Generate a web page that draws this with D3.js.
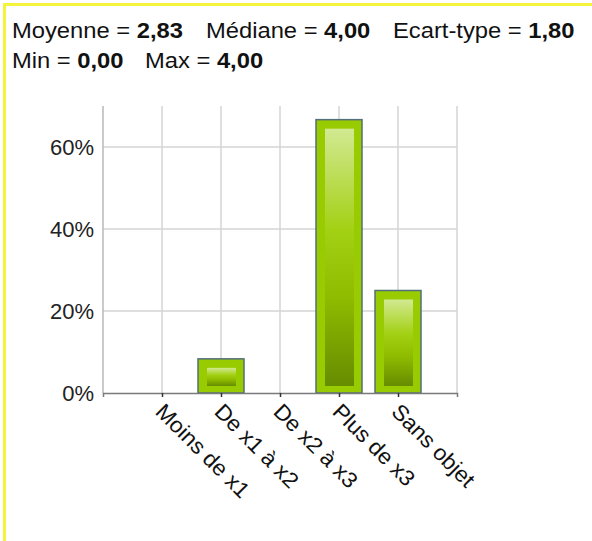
<!DOCTYPE html>
<html>
<head>
<meta charset="utf-8">
<script src="https://cdn.jsdelivr.net/npm/d3@7"></script>
<style>
  html, body { margin: 0; padding: 0; background: #fff; }
  svg { display: block; }
  text { font-family: "Liberation Sans", Arial, sans-serif; }
</style>
</head>
<body>
<svg id="chart" width="592" height="541"></svg>
<script>
// Response categories and their share of answers (%)
const categories = ["Moins de x1", "De x1 à x2", "De x2 à x3", "Plus de x3", "Sans objet"];
const percents = [0, 8.33, 0, 66.67, 25];
const yTicks = [0, 20, 40, 60];

// Summary statistics shown above the chart
const statsLine1 = [["Moyenne = ", "2,83"], ["Médiane = ", "4,00"], ["Ecart-type = ", "1,80"]];
const statsLine2 = [["Min = ", "0,00"], ["Max = ", "4,00"]];

const svg = d3.select("#chart");
const W = 592, H = 541;
const stretch = 1.08;

// yellow frame on the top and left edges
svg.append("rect").attr("x", 0).attr("y", 0).attr("width", W).attr("height", H).attr("fill", "#fff");
svg.append("line").attr("x1", 4.5).attr("x2", 4.5).attr("y1", 3).attr("y2", H)
  .attr("stroke", "#f4f43c").attr("stroke-width", 3);
svg.append("line").attr("x1", 3).attr("x2", W).attr("y1", 4.5).attr("y2", 4.5)
  .attr("stroke", "#f4f43c").attr("stroke-width", 3);

// statistics header
function statRow(items, xs, yPos) {
  items.forEach(([label, val], i) => {
    const g = svg.append("g").attr("transform", `translate(${xs[i]},${yPos}) scale(${stretch},1)`);
    const t = g.append("text").attr("font-size", 22).attr("fill", "#111");
    t.append("tspan").text(label);
    t.append("tspan").attr("font-weight", "bold").text(val);
  });
}
statRow(statsLine1, [12, 206, 393], 38);
statRow(statsLine2, [12, 145], 68);

// plot area
const plotL = 103, plotR = 457, plotT = 106, plotB = 393;
const x = d3.scalePoint().domain(categories).range([plotL, plotR]).padding(1);
const y = d3.scaleLinear().domain([0, 70]).range([plotB, plotT]);
const barW = 46;

const grid = svg.append("g");
// horizontal gridlines
grid.selectAll("line.h").data(yTicks.filter(d => d > 0)).join("line").attr("class", "h")
  .attr("x1", plotL).attr("x2", plotR)
  .attr("y1", d => y(d)).attr("y2", d => y(d))
  .attr("stroke", "#d4d4d4").attr("stroke-width", 1.5);
// vertical gridlines at every category plus both ends
const vx = [plotL, ...categories.map(c => x(c)), plotR];
grid.selectAll("line.v").data(vx).join("line").attr("class", "v")
  .attr("x1", d => d).attr("x2", d => d)
  .attr("y1", plotT).attr("y2", plotB)
  .attr("stroke", (d, i) => i === 0 ? "#b8b8b8" : "#d4d4d4").attr("stroke-width", 1.5);

// bars with inner gradient panel
const defs = svg.append("defs");
const grad = defs.append("linearGradient").attr("id", "barGrad")
  .attr("x1", 0).attr("x2", 0).attr("y1", 0).attr("y2", 1);
grad.append("stop").attr("offset", "0%").attr("stop-color", "#d2e992");
grad.append("stop").attr("offset", "40%").attr("stop-color", "#a2d012");
grad.append("stop").attr("offset", "65%").attr("stop-color", "#90bc00");
grad.append("stop").attr("offset", "100%").attr("stop-color", "#668c00");

const data = categories.map((c, i) => ({ c, v: percents[i] })).filter(d => d.v > 0);
const bars = svg.append("g").selectAll("g").data(data).join("g");
bars.append("rect")
  .attr("x", d => x(d.c) - barW / 2).attr("y", d => y(d.v))
  .attr("width", barW).attr("height", d => plotB - y(d.v))
  .attr("fill", "#99cc00").attr("stroke", "#52707a").attr("stroke-width", 1.5);
bars.append("rect")
  .attr("x", d => x(d.c) - barW / 2 + 9).attr("y", d => y(d.v) + 9)
  .attr("width", barW - 17).attr("height", d => Math.max(0, plotB - y(d.v) - 16))
  .attr("fill", "url(#barGrad)");

// y axis labels
const yAxis = svg.append("g").attr("transform", `translate(${plotL},0)`)
  .call(d3.axisLeft(y).tickValues(yTicks).tickFormat(d => d + "%").tickSize(0).tickPadding(9));
yAxis.select(".domain").remove();
yAxis.selectAll("text").attr("font-size", 22).attr("fill", "#222")
  .attr("font-family", "Liberation Sans, Arial, sans-serif");

// x axis with rotated labels
const xAxis = svg.append("g").attr("transform", `translate(0,${plotB})`)
  .call(d3.axisBottom(x).tickSize(4).tickSizeOuter(4));
xAxis.select(".domain").attr("stroke", "#7a7a7a").attr("stroke-width", 1.5);
xAxis.selectAll(".tick line").attr("stroke", "#333").attr("stroke-width", 1.5);
xAxis.selectAll("text")
  .attr("font-size", 22).attr("fill", "#111")
  .attr("font-family", "Liberation Sans, Arial, sans-serif")
  .attr("text-anchor", "start")
  .attr("x", 8).attr("y", 20).attr("dy", 0)
  .attr("transform", `rotate(45) scale(1.03,1)`);
</script>
</body>
</html>
